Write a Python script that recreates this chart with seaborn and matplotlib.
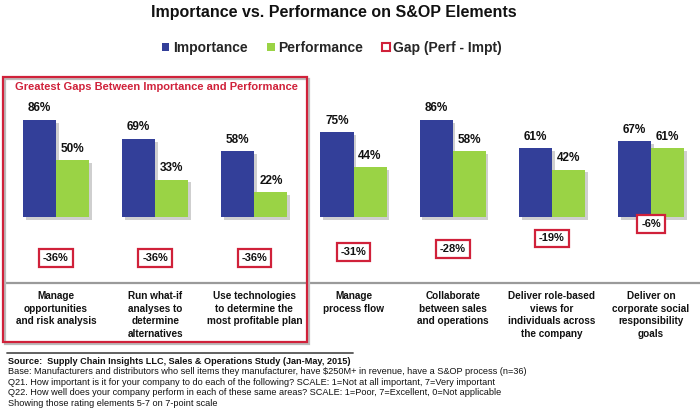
import matplotlib
matplotlib.use("Agg")
import matplotlib.pyplot as plt
import matplotlib.patheffects as pe
from matplotlib.patches import Patch, Rectangle
from matplotlib.lines import Line2D
import seaborn as sns
import pandas as pd

categories = [
    "Manage\nopportunities\nand risk analysis",
    "Run what-if\nanalyses to\ndetermine\nalternatives",
    "Use technologies\nto determine the\nmost profitable plan",
    "Manage\nprocess flow",
    "Collaborate\nbetween sales\nand operations",
    "Deliver role-based\nviews for\nindividuals across\nthe company",
    "Deliver on\ncorporate social\nresponsibility\ngoals",
]
importance = [86, 69, 58, 75, 86, 61, 67]
performance = [50, 33, 22, 44, 58, 42, 61]
gaps = [-36, -36, -36, -31, -28, -19, -6]

series_names = ["Importance", "Performance", "Gap (Perf - Impt)"]
BLUE = "#333F99"
GREEN = "#9AD345"
RED = "#D0213A"

sns.set_theme(style="white")
plt.rcParams["font.family"] = ["Liberation Sans", "DejaVu Sans"]

df = pd.DataFrame({
    "category": categories * 2,
    "value": importance + performance,
    "series": [series_names[0]] * len(categories) + [series_names[1]] * len(categories),
})

fig = plt.figure(figsize=(7.0, 4.15), dpi=100)
W, H = 700.0, 415.0
ax_left, ax_right = 6.4, 700.6
ax_top_px, ax_bot_px = 77.0, 283.0
ax = fig.add_axes([ax_left / W, (H - ax_bot_px) / H, (ax_right - ax_left) / W, (ax_bot_px - ax_top_px) / H])

sns.barplot(data=df, x="category", y="value", hue="series", order=categories,
            hue_order=series_names[:2], palette=[BLUE, GREEN], width=0.666,
            saturation=1, legend=False, ax=ax, errorbar=None)

for cont in ax.containers:
    for bar in cont:
        bar.set_edgecolor("none")
        bar.set_path_effects([pe.SimplePatchShadow(offset=(2, -2), shadow_rgbFace="#777777", alpha=0.35),
                              pe.Normal()])
    ax.bar_label(cont, fmt="%g%%", padding=4, fontsize=8.5, fontweight="bold", color="#111111")

for i, g in enumerate(gaps):
    ax.text(i, g, f"{g}%", ha="center", va="center", fontsize=8, fontweight="bold", color="#111111",
            bbox=dict(boxstyle="square,pad=0.35", facecolor="white", edgecolor=RED, linewidth=1.6))

ax.set_xlim(-0.5, len(categories) - 0.5)
ax.set_ylim(-(ax_bot_px - 217) / 1.13, (217 - ax_top_px) / 1.13)
ax.set_xlabel("")
ax.set_ylabel("")
ax.set_yticks([])
ax.tick_params(axis="x", length=0, pad=6)
ax.set_xticks(range(len(categories)))
ax.set_xticklabels(categories, fontsize=7.2, fontweight="bold", linespacing=1.3, color="#111111")
for s in ["top", "left", "right"]:
    ax.spines[s].set_visible(False)
ax.spines["bottom"].set_color("#9A9A9A")
ax.spines["bottom"].set_linewidth(1.6)
ax.patch.set_alpha(0)

# Title
fig.text(334 / W, 1 - 12 / H, "Importance vs. Performance on S&OP Elements", ha="center", va="center",
         fontsize=11.5, fontweight="bold", color="#111111")

# Legend
handles = [Patch(facecolor=BLUE, edgecolor="none"),
           Patch(facecolor=GREEN, edgecolor="none"),
           Patch(facecolor="white", edgecolor=RED, linewidth=1.5)]
fig.legend(handles, series_names, loc="center", bbox_to_anchor=(332 / W, 1 - 48 / H), ncol=3,
           frameon=False, prop=dict(size=10, weight="bold"), handlelength=0.55, handleheight=0.55,
           handletextpad=0.25, columnspacing=1.4)

# Highlight box with a soft shadow
shadow = Rectangle((4.5 / W, (H - 343.5) / H), 304 / W, 265 / H, transform=fig.transFigure, fill=False,
                   edgecolor="#BBBBBB", linewidth=1.6, zorder=4)
fig.add_artist(shadow)
box = Rectangle((3 / W, (H - 342) / H), 304 / W, 265 / H, transform=fig.transFigure, fill=False,
                edgecolor=RED, linewidth=1.6, zorder=5)
fig.add_artist(box)
fig.text(156.5 / W, 1 - 87 / H, "Greatest Gaps Between Importance and Performance", ha="center", va="center",
         fontsize=8, fontweight="bold", color=RED)

# Footer
fig.add_artist(Line2D([7 / W, 353 / W], [1 - 353 / H, 1 - 353 / H], transform=fig.transFigure,
                      color="#555555", linewidth=1.3))
footer = [
    ("Source:  Supply Chain Insights LLC, Sales & Operations Study (Jan-May, 2015)", "bold"),
    ("Base: Manufacturers and distributors who sell items they manufacturer, have $250M+ in revenue, have a S&OP process (n=36)", "normal"),
    ("Q21. How important is it for your company to do each of the following? SCALE: 1=Not at all important, 7=Very important", "normal"),
    ("Q22. How well does your company perform in each of these same areas? SCALE: 1=Poor, 7=Excellent, 0=Not applicable", "normal"),
    ("Showing those rating elements 5-7 on 7-point scale", "normal"),
]
ys = [361, 371.5, 382, 392.5, 403]
for (txt, wt), y in zip(footer, ys):
    fig.text(8 / W, 1 - y / H, txt, ha="left", va="center", fontsize=6.55, fontweight=wt, color="#111111")

fig.savefig("out.png", dpi=100)
